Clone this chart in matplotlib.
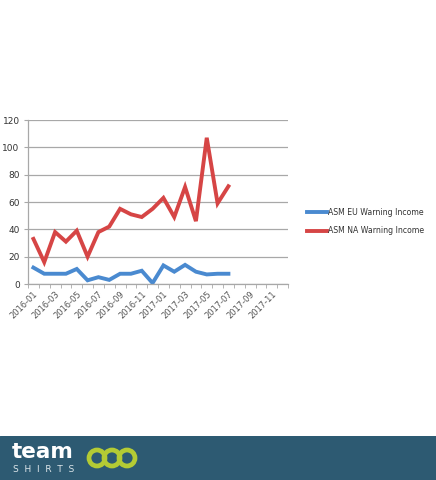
import matplotlib.pyplot as plt
from matplotlib.patches import Rectangle, Circle

months = [f"{y}-{m:02d}" for y in (2016, 2017) for m in range(1, 13)]
eu_income = [12, 7.5, 7.5, 7.5, 11, 2.7, 5, 3, 7.5, 7.5, 9.7, 0.7,
             13.6, 9, 14, 9, 7, 7.5, 7.5]
na_income = [33, 16, 38, 31, 39, 20, 38, 42, 55, 51, 49, 55,
             63, 49, 71, 46, 107, 59, 71.5]
y_ticks = [0, 20, 40, 60, 80, 100, 120]

fig = plt.figure(figsize=(4.36, 4.80), dpi=100)
fig.patch.set_facecolor("white")

ax = fig.add_axes([28 / 436, 1 - 284 / 480, 260 / 436, 164 / 480])
x = list(range(len(eu_income)))
l1, = ax.plot(x, eu_income, color="#4a8ad0", linewidth=2.8,
              solid_joinstyle="miter", label="ASM EU Warning Income")
l2, = ax.plot(x, na_income, color="#d64545", linewidth=2.8,
              solid_joinstyle="miter", label="ASM NA Warning Income")

ax.set_xlim(-0.5, len(months) - 0.5)
ax.set_ylim(0, 120)
ax.set_yticks(y_ticks)
ax.set_yticklabels([str(v) for v in y_ticks], fontsize=6.5, color="#333333")
ax.yaxis.grid(True, color="#a8a8a8", linewidth=0.9)
ax.set_axisbelow(True)

ax.set_xticks(range(0, len(months), 2))
ax.set_xticklabels(months[::2], rotation=45, ha="right", rotation_mode="anchor",
                   fontsize=6, color="#555555")
ax.set_xticks([i - 0.5 for i in range(len(months) + 1)], minor=True)
ax.tick_params(axis="x", which="major", length=0, pad=4)
ax.tick_params(axis="x", which="minor", length=3, color="#a8a8a8")
ax.tick_params(axis="y", length=3, color="#a8a8a8", pad=3)

for s in ("top", "right"):
    ax.spines[s].set_visible(False)
for s in ("left", "bottom"):
    ax.spines[s].set_color("#a8a8a8")
    ax.spines[s].set_linewidth(0.9)

fig.legend(handles=[l1, l2], loc="upper left", bbox_to_anchor=(300 / 436, 1 - 201 / 480),
           frameon=False, fontsize=5.6, handlelength=2.6, handletextpad=0.05,
           labelspacing=1.2, labelcolor="#333333")

# bottom banner with logo
bx = fig.add_axes([0, 0, 1, 44 / 480])
bx.set_xlim(0, 436)
bx.set_ylim(0, 44)
bx.axis("off")
bx.add_patch(Rectangle((0, 0), 436, 44, color="#2d5a72"))
bx.text(12, 28, "team", color="white", fontsize=15.5, fontweight="bold",
        va="center", ha="left")
bx.text(13, 10, "S  H  I  R  T  S", color="#dde6ea", fontsize=6.5,
        va="center", ha="left")
for cx in (97, 112, 127):
    bx.add_patch(Circle((cx, 22), 8, fill=False, edgecolor="#b4cb34", linewidth=3.4))

fig.savefig("out.png", dpi=100)
